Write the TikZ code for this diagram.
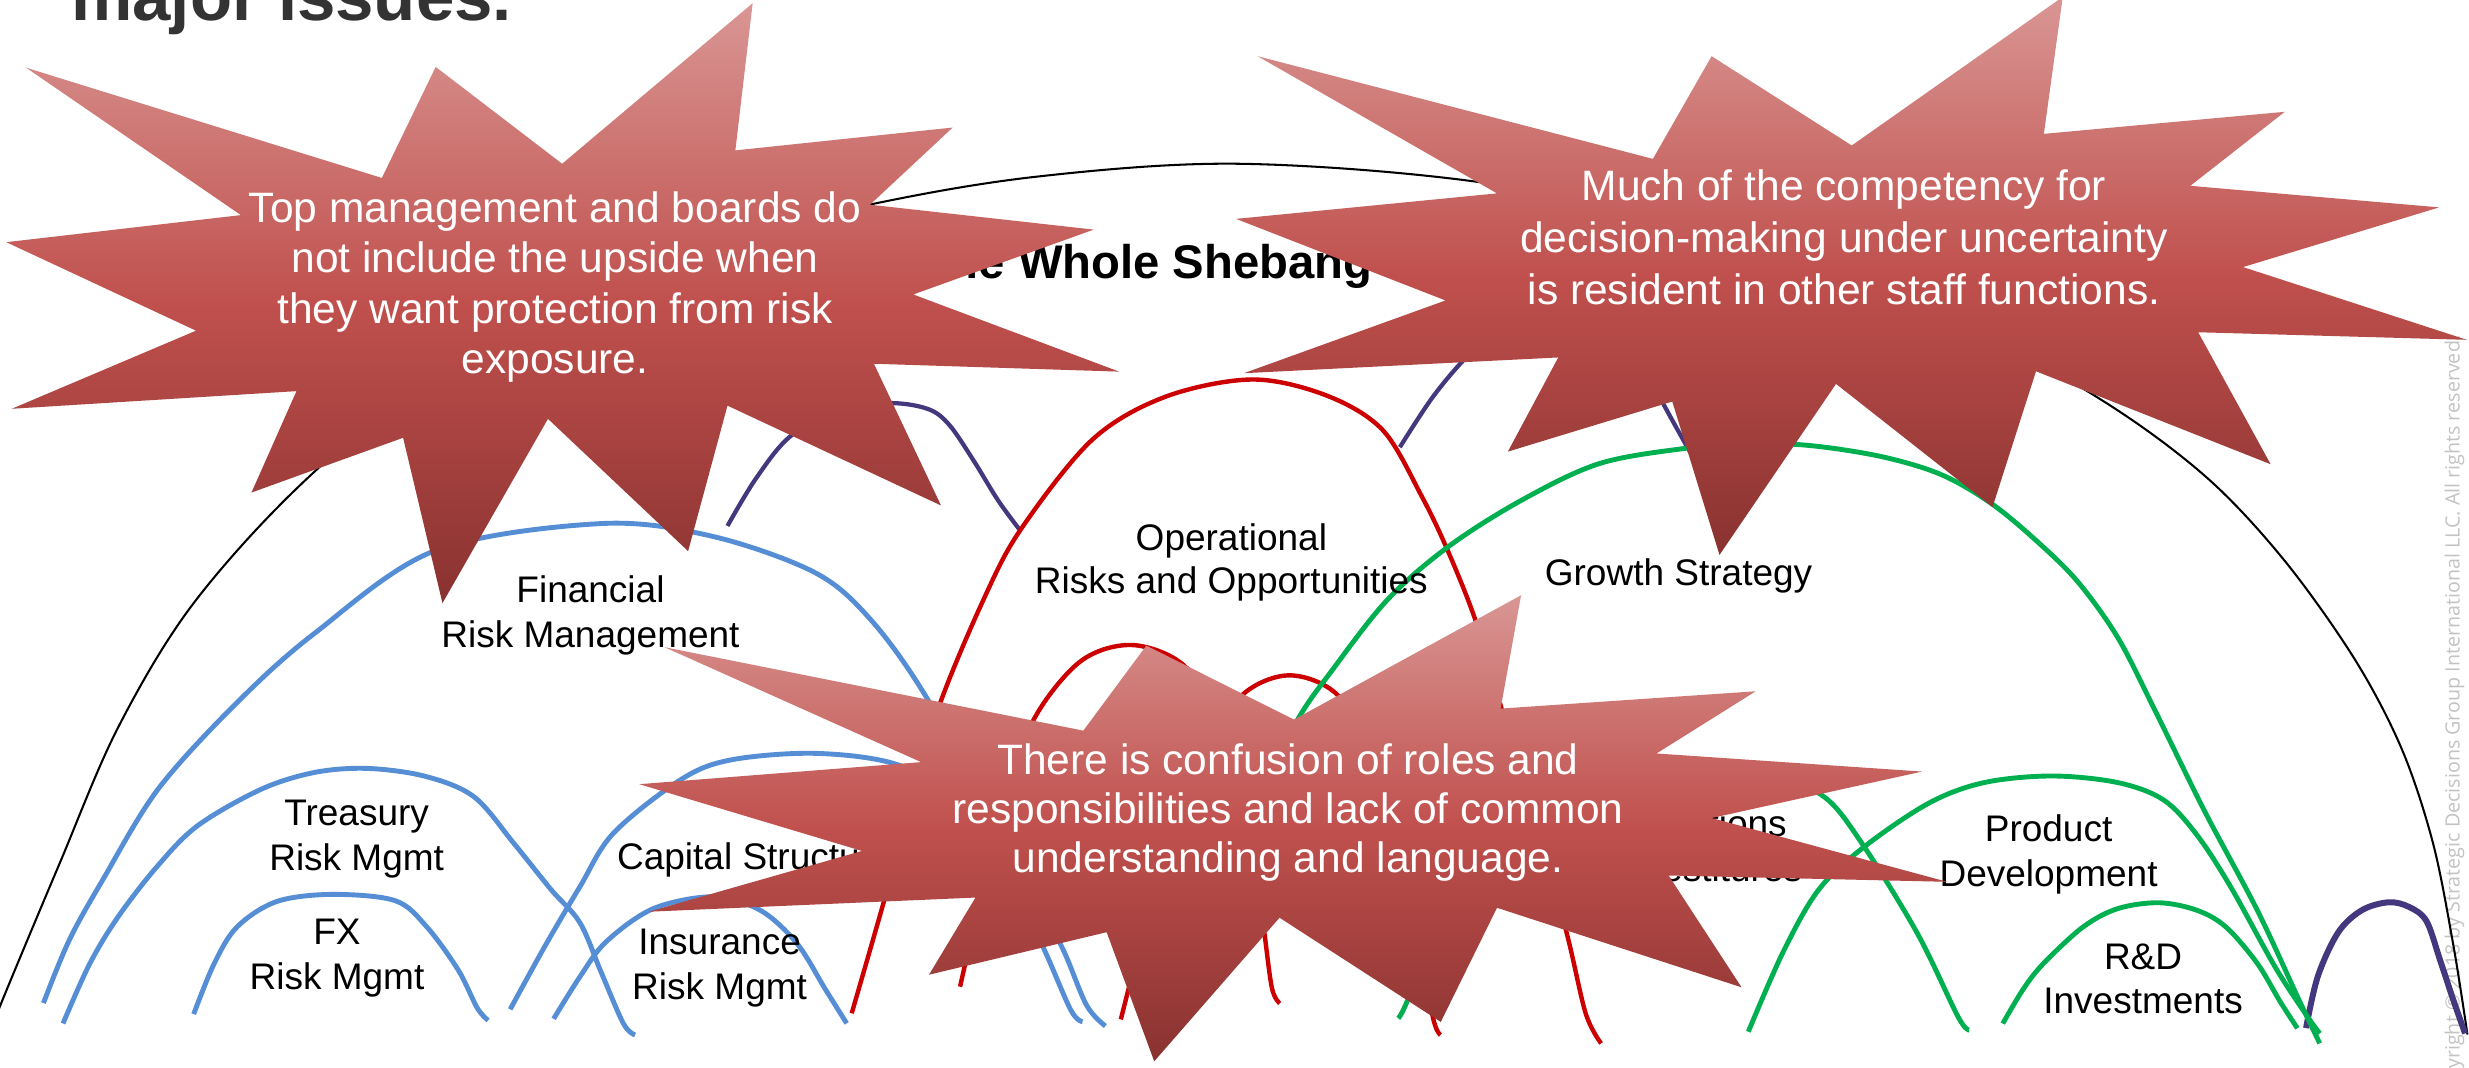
\documentclass[tikz,border=0pt]{standalone}
\usepackage{fontspec}
\setmainfont{Liberation Sans}
\newfontfamily\cpfont{Open Sans}
\definecolor{cBlue}{RGB}{85,142,213}
\definecolor{cRed}{RGB}{204,0,0}
\definecolor{cGreen}{RGB}{0,176,80}
\definecolor{cPurple}{RGB}{69,55,125}
\definecolor{sTop}{RGB}{217,150,148}
\definecolor{sMid}{RGB}{192,80,77}
\definecolor{sBot}{RGB}{137,50,48}
\definecolor{cTitle}{RGB}{51,51,51}
\definecolor{cCopy}{RGB}{195,195,195}
\tikzset{
  arcline/.style={line width=3.1, line join=round},
  bl/.style={arcline, draw=cBlue},
  rd/.style={arcline, line width=2.8, draw=cRed},
  gr/.style={arcline, draw=cGreen},
  pu/.style={arcline, line width=2.7, draw=cPurple},
  lbl/.style={font=\fontsize{23.5}{28.5}\selectfont, inner sep=0, anchor=base},
  stxt/.style={font=\fontsize{27}{32}\selectfont, text=white, inner sep=0, anchor=base},
  burst/.style={top color=sTop, bottom color=sBot, middle color=sMid, draw=none},
  sm/.style={smooth, tension=0.55}
}
\begin{document}
\begin{tikzpicture}[x=1pt, y=-1pt]
\useasboundingbox (0,0) rectangle (1568,678);
\clip (0,0) rectangle (1568,678);
\fill[white] (0,0) rectangle (1568,678);

% copyright
\node[anchor=base east, rotate=90, inner sep=0, font=\cpfont\fontsize{12.5}{15}\selectfont, text=cCopy] (copy) at (1562,213) {Copyright © 2018 by Strategic Decisions Group International LLC. All rights reserved.};

% whole shebang arc
\draw[line width=1.3, black] plot[sm] coordinates {(-5,655) (0,639) (38,548) (75,462) (123,383) (196,303) (300,218) (420,162) (552,130) (660,112) (787,104) (942,116) (1100,148) (1230,196) (1333,253) (1400,302) (1450,355) (1495,418) (1525,475) (1545,535) (1558,600) (1567,657)};

% purple arcs
\draw[pu] plot[sm] coordinates {(462,334) (480,304) (502,277) (535,259) (567,256) (590,260) (603,270) (618,292) (634,318) (648,337)};
\draw[pu] plot[sm] coordinates {(889,284) (910,252) (932,226) (960,200) (995,188) (1030,205) (1055,254) (1075,290)};
\draw[pu, line width=3.8] plot[sm] coordinates {(1464.5,652.9) (1472,620) (1485,592) (1500,578) (1517,573) (1530,576) (1541,585) (1549.6,609.7) (1558,635) (1565.5,656.3)};

% blue arcs
\draw[bl] plot[sm] coordinates {(27.6,637) (44,597) (65.3,558.7) (100.5,501) (150.7,446) (200,402) (276.2,349.7) (381.7,332.5) (452,340.5) (517.3,363.5) (552.5,393) (587.6,441.6) (630,520) (657,570) (675,602.7) (690,638.3) (702,651.6)};
\draw[bl] plot[sm] coordinates {(40,650) (57,612) (75.3,581.8) (100,550) (125.6,524.3) (165.7,501.3) (200,490.5) (233.5,488) (270,493) (301,506) (326.5,535.8) (350,565) (368.3,586) (382,618) (395.9,650) (403.3,657.3)};
\draw[bl] plot[sm] coordinates {(123,644) (136,612) (150.6,588.6) (175.8,572.5) (211,568) (251,572) (271,588.6) (291,616) (303,640) (310,648)};
\draw[bl] plot[sm] coordinates {(324,641) (346,601) (368.3,563.1) (389.5,529.2) (431.9,495.4) (463.6,482.7) (516.5,478.4) (567.3,484.8) (605,505) (635,545) (662,600.5) (680,641.4) (687.5,648.8)};
\draw[bl] plot[sm] coordinates {(351.6,647) (368.3,620.3) (385,598) (415,577) (453,569.5) (482.7,578) (506,599) (524,628) (537.7,649.9)};

% red arcs
\draw[rd] plot[sm] coordinates {(540.9,643.5) (561,573.7) (580,505) (597,446.7) (624.5,381) (648,336.6) (693.5,279.4) (740,252) (795,241) (842,251) (878,273) (903,315.4) (920,351) (937.4,395) (953,448) (975,520) (995,592.7) (1007,643.5) (1016.8,662.6)};
\draw[rd] plot[sm] coordinates {(609.7,626.6) (622.4,571.6) (638,510) (656.3,457.3) (685.9,420.2) (718,409.6) (750,421) (772,452) (788,500) (798,555) (803,592.7) (807.8,627.7) (812.7,637.2)};
\draw[rd] plot[sm] coordinates {(711.8,647.4) (724,600) (742,535) (762,480) (788.8,441.4) (819,428.9) (849.5,441.4) (870,480) (887,535) (900,590) (909.9,645.7) (914.8,657.3)};

% green arcs
\draw[gr] plot[sm] coordinates {(742,648) (762,590) (790,520) (823.7,457.6) (845,427) (881,381) (920,347) (966.6,317.5) (1016,294.3) (1072,284.5) (1110,281.5) (1150,283) (1195,290) (1232.8,301.4) (1265,320) (1295,345) (1320,370) (1345,405) (1368,450) (1400,515) (1433.5,578) (1460,635) (1473.2,662.6)};
\draw[gr] plot[sm] coordinates {(888,646.7) (894,635) (915,580) (945,528) (985,500) (1030,489) (1080,487) (1125,493) (1158.4,506) (1182.6,535.8) (1217.8,593) (1243.5,645.7) (1250.6,654.1)};
\draw[gr] plot[sm] coordinates {(1110.3,655.2) (1132.4,604.6) (1155,565) (1184,537.7) (1225,510) (1260,497) (1303,492.8) (1345,497) (1374,508) (1395,530) (1416.5,563) (1444.8,614) (1465,645) (1473.2,656.3)};
\draw[gr] plot[sm] coordinates {(1271.9,650) (1285,628) (1298,611.6) (1323,588.6) (1345,577) (1371,573.3) (1395,578) (1413.5,588.6) (1433.4,611.6) (1448,636) (1459,653)};

% labels
\node[lbl] (fin1) at (375,382.5) {Financial};
\node[lbl] (fin2) at (375,411) {Risk Management};
\node[lbl] (tre1) at (226.5,524) {Treasury};
\node[lbl] (tre2) at (226.5,553) {Risk Mgmt};
\node[lbl] (fx1) at (214,600) {FX};
\node[lbl] (fx2) at (214,628.7) {Risk Mgmt};
\node[lbl, anchor=base west] (cap) at (391.7,552) {Capital Structure};
\node[lbl] (ins1) at (457,606) {Insurance};
\node[lbl] (ins2) at (457,634.5) {Risk Mgmt};
\node[lbl] (op1) at (782,349.3) {Operational};
\node[lbl] (op2) at (782,376.8) {Risks and Opportunities};
\node[lbl] (gro) at (1066,372) {Growth Strategy};
\node[lbl] (acq1) at (1072,531) {Acquisitions};
\node[lbl] (acq2) at (1072,560) {\& Divestitures};
\node[lbl] (pd1) at (1301,534.6) {Product};
\node[lbl] (pd2) at (1301,563.3) {Development};
\node[lbl] (rd1) at (1361,616) {R\&D};
\node[lbl] (rd2) at (1361,643.7) {Investments};

\node[anchor=base west, inner sep=0, font=\bfseries\fontsize{30}{36}\selectfont] (shebang) at (584.7,177) {The Whole Shebang};

% starbursts
\shade[burst] (478,2) -- (467,95.5) -- (605,81) -- (552.5,130) -- (694.6,145.8) -- (580,187) -- (710.7,236) -- (555,231) -- (597.6,321) -- (462,257.6) -- (437,350) -- (348,266) -- (281,383) -- (256,278) -- (159.7,312.8) -- (188.3,248.4) -- (7.5,259.6) -- (124.5,210) -- (4,153.8) -- (153,136.6) -- (16.6,43) -- (242.5,113) -- (276.7,42.5) -- (357,104) -- cycle;
\shade[burst] (1310,-2) -- (1298,85) -- (1451,71) -- (1391,118) -- (1549,131.7) -- (1424.5,169.6) -- (1566.6,215.8) -- (1396,211) -- (1442,294.8) -- (1293,235.8) -- (1265.4,322) -- (1166,243.8) -- (1092,352.4) -- (1062,255) -- (957.6,286.8) -- (989.6,227) -- (790,237) -- (918,190.8) -- (785,139) -- (950.7,122.8) -- (798.7,35.7) -- (1049.7,100.9) -- (1087,35.7) -- (1176,92.4) -- cycle;
\shade[burst] (728,410) -- (821.8,457) -- (966,378) -- (953,450) -- (1115,439) -- (1052,478.5) -- (1220.6,490) -- (1087,519.5) -- (1236.5,560) -- (1059.7,556) -- (1106,627) -- (950.7,576.5) -- (915,649) -- (812.6,582.8) -- (733,674) -- (702.8,592) -- (590,619) -- (619.5,570) -- (412,579) -- (547.4,540.4) -- (406,498) -- (585,484) -- (422,411) -- (688,464) -- cycle;

\node[stxt] (s1a) at (352.5,141) {Top management and boards do};
\node[stxt] (s1b) at (352.5,173) {not include the upside when};
\node[stxt] (s1c) at (352.5,205.4) {they want protection from risk};
\node[stxt] (s1d) at (352.5,237) {exposure.};
\node[stxt] (s2a) at (1171,127.6) {Much of the competency for};
\node[stxt] (s2b) at (1171,160.4) {decision-making under uncertainty};
\node[stxt] (s2c) at (1171,193.2) {is resident in other staff functions.};
\node[stxt] (s3a) at (818,491.7) {There is confusion of roles and};
\node[stxt] (s3b) at (818,523) {responsibilities and lack of common};
\node[stxt] (s3c) at (818,554.4) {understanding and language.};

\node[anchor=base west, inner sep=0, font=\bfseries\fontsize{43.8}{50}\selectfont, text=cTitle] (title) at (45,12.7) {major issues.};
\end{tikzpicture}
\end{document}
